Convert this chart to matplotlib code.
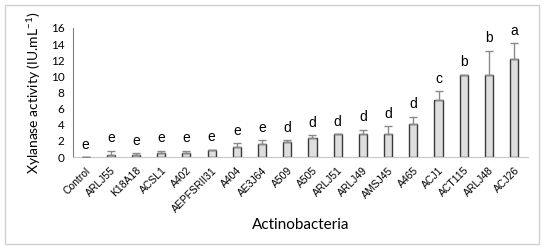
import matplotlib.pyplot as plt
import matplotlib.patches as mpatches
import numpy as np

plt.rcParams['mathtext.fontset'] = 'custom'
plt.rcParams['mathtext.rm'] = 'Lato'
plt.rcParams['mathtext.it'] = 'Lato:italic'

strains = ['Control', 'ARLJ55', 'K18A18', 'ACSL1', 'A402', 'AEPFSRII31', 'A404',
           'AE3J64', 'A509', 'A505', 'ARLJ51', 'ARLJ49', 'AMSJ45', 'A465', 'ACJ1',
           'ACT115', 'ARLJ48', 'ACJ26']
activity = [0.0, 0.3, 0.3, 0.55, 0.55, 0.9, 1.2, 1.6, 1.9, 2.3, 2.8, 2.9, 2.9,
            4.1, 7.1, 10.2, 10.2, 12.2]
err = [0.0, 0.5, 0.2, 0.25, 0.25, 0.0, 0.5, 0.5, 0.2, 0.4, 0.05, 0.5, 0.9,
       0.9, 1.1, 0.0, 3.0, 1.9]
groups = ['e', 'e', 'e', 'e', 'e', 'e', 'e', 'e', 'd', 'd', 'd', 'd', 'd',
          'd', 'c', 'b', 'b', 'a']

fig = plt.figure(figsize=(5.5, 2.5), dpi=100)
fig.patches.append(mpatches.Rectangle((5/550, 6/250), 534/550, 239/250,
                                      transform=fig.transFigure, fill=False,
                                      edgecolor='#d0d0d0', lw=1))
ax = fig.add_axes([73/550, 1 - 157/250, 455/550, 129/250])

x = np.arange(len(strains))
ax.bar(x, activity, width=0.32, color='#dedede', edgecolor='#3a3a3a', lw=1, zorder=2)
up = [[0]*len(err), err]
ax.errorbar(x, activity, yerr=up, fmt='none', ecolor='#8a8a8a', elinewidth=1,
            capsize=3, capthick=1, zorder=3)

for i in range(len(strains)):
    top = activity[i] + err[i]
    ax.annotate(groups[i], (x[i], top), xytext=(0, 6), textcoords='offset points',
                ha='center', va='baseline', fontsize=10, family='Liberation Sans')

ax.set_ylim(0, 16)
ax.set_xlim(-0.5, 17.55)
ax.set_yticks(range(0, 17, 2))
ax.set_xticks(x)
ax.set_xticklabels(strains, rotation=45, ha='right', rotation_mode='anchor',
                   fontsize=7.5, family='Liberation Sans')
for lab in ax.get_yticklabels():
    lab.set_family('Lato')
    lab.set_fontsize(8.5)
ax.tick_params(length=0, pad=6)
ax.tick_params(axis='x', pad=6)
for s in ['top', 'right']:
    ax.spines[s].set_visible(False)
ax.spines['left'].set_color('#808080')
ax.spines['bottom'].set_color('#c8c8c8')

ax.set_ylabel('Xylanase activity (IU.mL$^{-1}$)', family='Lato', fontsize=10, labelpad=6)
ax.set_xlabel('Actinobacteria', family='Lato', fontsize=11, labelpad=3)

fig.savefig('out.png', dpi=100)
